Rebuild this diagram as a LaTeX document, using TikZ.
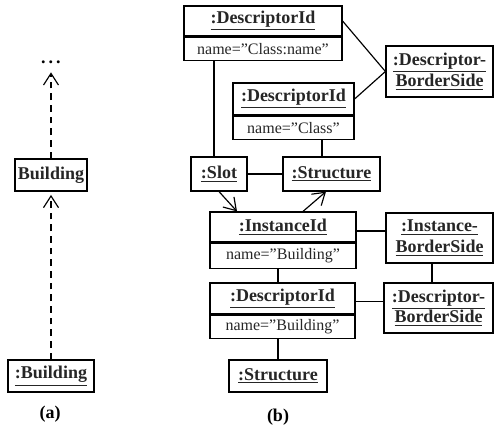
\documentclass[tikz,border=0pt]{standalone}
\usepackage{fontspec}
\setmainfont{Liberation Serif}
\usetikzlibrary{arrows.meta,positioning}

\newcommand{\objname}[1]{\underline{#1}}

\tikzset{
  obj/.style={draw, line width=0.7pt, inner sep=0pt, align=center, font=\fontsize{10.8}{12.4}\selectfont\bfseries, text=black!85},
  attr/.style={draw, line width=0.7pt, inner sep=0pt, font=\fontsize{9.6}{11.5}\selectfont, text=black!85},
  link/.style={line width=0.7pt},
  inst/.style={link, -{Straight Barb[length=7pt,width=9pt]}},
  dep/.style={inst, dash pattern=on 4pt off 3pt},
}

\begin{document}
\begin{tikzpicture}[x=0.6pt,y=-0.6pt]
    \useasboundingbox (0,0) rectangle (494,430);

    % (a) instance of, class of
    \node[obj, minimum width=43.2pt, minimum height=19.2pt] (bld) at (51,175) {Building};
    \node[obj, minimum width=51.6pt, minimum height=19.2pt] (ibld) at (51,376) {\objname{:Building}};
    \node[font=\fontsize{10.8}{12.4}\selectfont\bfseries, inner sep=0pt, text depth=0pt, anchor=south] (dots) at (51,64) {.\,.\,.};
    \node[font=\fontsize{10.8}{12.4}\selectfont\bfseries] (capa) at (50,414) {(a)};
    \draw[dep, shorten >=5pt] (bld.north) -- (dots.south);
    \draw[dep, shorten >=2pt] (ibld.north) -- (bld.south);

    % (b) the object structure
    \node[obj, minimum width=94.8pt, minimum height=18pt] (d1) at (263,21) {\objname{:DescriptorId}};
    \node[attr, minimum width=94.8pt, minimum height=13.8pt] (d1n) [below=0pt of d1] {name=”Class:name”};
    \node[obj, minimum width=64.2pt, minimum height=30.6pt] (dbs1) at (439.5,71.5) {\objname{:Descriptor-}\\\objname{BorderSide}};
    \node[obj, minimum width=72.6pt, minimum height=19.2pt] (d2) at (293.5,99) {\objname{:DescriptorId}};
    \node[attr, minimum width=72.6pt, minimum height=13.8pt] (d2n) [below=0pt of d2] {name=”Class”};
    \node[obj, minimum width=33.6pt, minimum height=20.4pt] (slot) at (219,174) {\objname{:Slot}};
    \node[obj, minimum width=58.2pt, minimum height=20.4pt] (str1) at (331.5,174) {\objname{:Structure}};
    \node[obj, minimum width=87.6pt, minimum height=18pt] (inst) at (283,227) {\objname{:InstanceId}};
    \node[attr, minimum width=87.6pt, minimum height=15pt] (instn) [below=0pt of inst] {name=”Building”};
    \node[obj, minimum width=64.2pt, minimum height=30pt] (ibs) at (439.5,238) {\objname{:Instance-}\\\objname{BorderSide}};
    \node[obj, minimum width=87pt, minimum height=18.6pt] (d3) at (282.5,298.5) {\objname{:DescriptorId}};
    \node[attr, minimum width=87pt, minimum height=13.8pt] (d3n) [below=0pt of d3] {name=”Building”};
    \node[obj, minimum width=65.4pt, minimum height=30pt] (dbs2) at (438.5,308) {\objname{:Descriptor-}\\\objname{BorderSide}};
    \node[obj, minimum width=58.8pt, minimum height=19.2pt] (str2) at (278,376) {\objname{:Structure}};
    \node[font=\fontsize{10.8}{12.4}\selectfont\bfseries] (capb) at (278,417) {(b)};

    \draw[link] (d1.east) -- (dbs1.west);
    \draw[link] (d2.east) -- (dbs1.west);
    \draw[link] ([xshift=-3pt]slot.north |- d1n.south) -- ([xshift=-3pt]slot.north);
    \draw[link] ([xshift=-5.7pt]str1.north |- d2n.south) -- ([xshift=-5.7pt]str1.north);
    \draw[link] (slot.east) -- (str1.west);
    \draw[inst] (slot.south) -- ([xshift=-27.6pt]inst.north);
    \draw[inst] ([xshift=12pt]inst.north) -- ([xshift=-3.3pt]str1.south);
    \draw[link] ([yshift=-2.4pt]inst.east) -- ([yshift=-2.4pt]inst.east -| ibs.west);
    \draw[link] ([xshift=-4.5pt]ibs.south) -- ([xshift=-4.5pt]ibs.south |- dbs2.north);
    \draw[link] ([xshift=-3pt]instn.south) -- ([xshift=-3pt]instn.south |- d3.north);
    \draw[link] ([yshift=-2pt]d3.east) -- ([yshift=-2pt]d3.east -| dbs2.west);
    \draw[link] (str2.north |- d3n.south) -- (str2.north);
\end{tikzpicture}
\end{document}
